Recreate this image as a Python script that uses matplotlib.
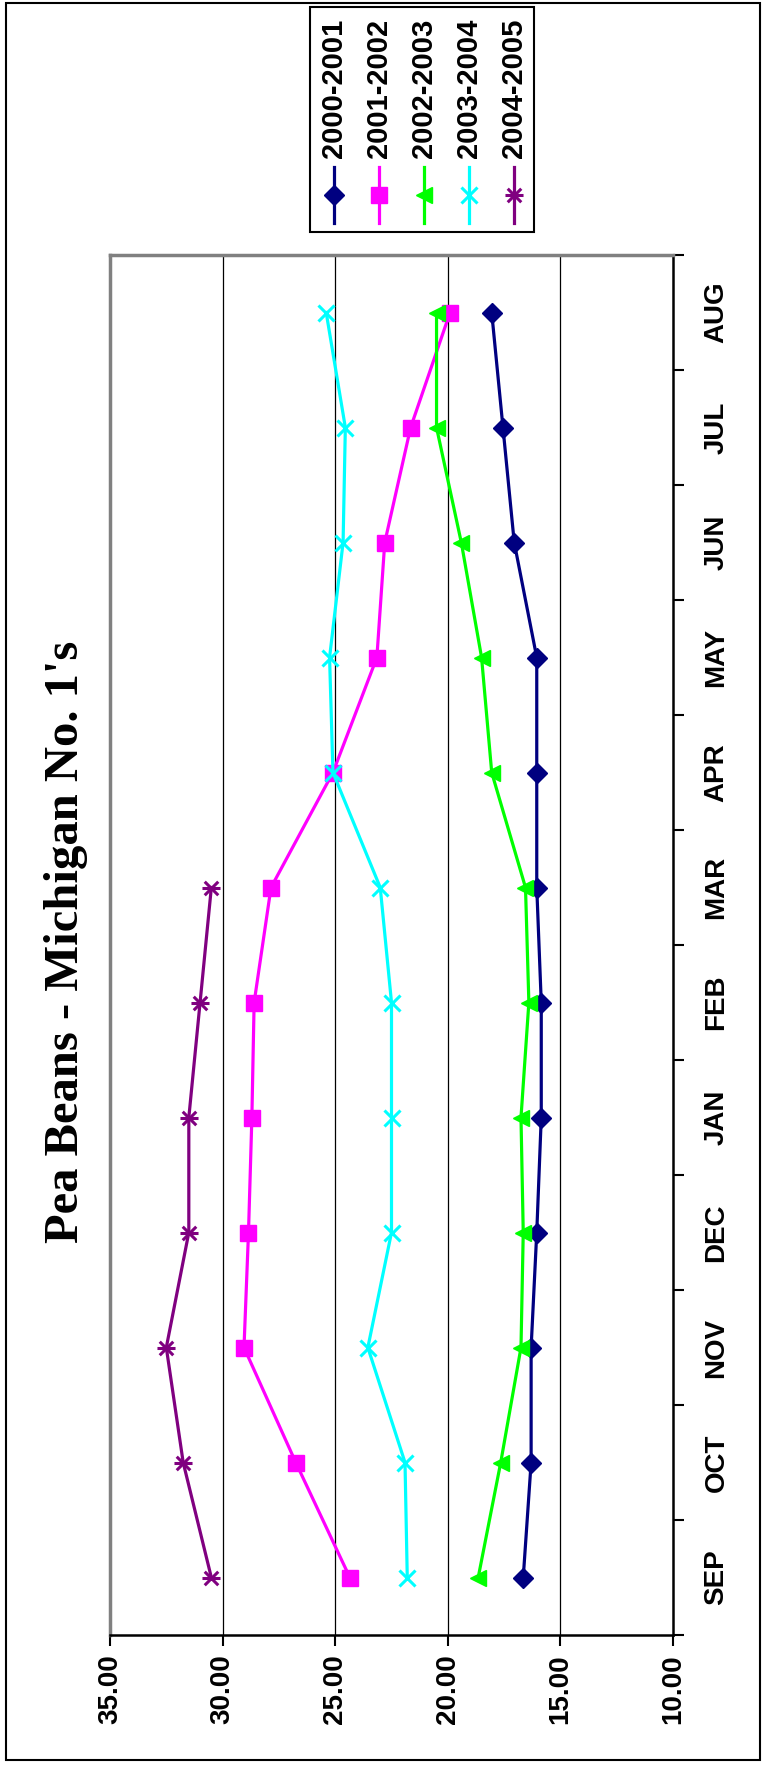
import numpy as np
import matplotlib
matplotlib.use("Agg")
import matplotlib.pyplot as plt
from matplotlib.path import Path
from matplotlib.lines import Line2D
from matplotlib.patches import Rectangle

# Daten (Preise pro Monat, Saison Sep-Aug)
months = ["SEP", "OCT", "NOV", "DEC", "JAN", "FEB", "MAR", "APR", "MAY", "JUN", "JUL", "AUG"]
seasons = ["2000-2001", "2001-2002", "2002-2003", "2003-2004", "2004-2005"]

s2000 = [16.65, 16.3, 16.3, 16.05, 15.85, 15.85, 16.05, 16.05, 16.05, 17.05, 17.55, 18.05]
s2001 = [24.35, 26.75, 29.05, 28.85, 28.7, 28.6, 27.85, 25.1, 23.15, 22.8, 21.65, 19.9]
s2002 = [18.65, 17.65, 16.75, 16.65, 16.75, 16.4, 16.55, 18.05, 18.5, 19.4, 20.5, 20.5]
s2003 = [21.8, 21.9, 23.55, 22.5, 22.5, 22.5, 23.0, 25.1, 25.25, 24.65, 24.55, 25.4]
s2004 = [30.5, 31.75, 32.5, 31.5, 31.5, 31.0, 30.5]

values = [s2000, s2001, s2002, s2003, s2004]
value_ticks = [35, 30, 25, 20, 15, 10]

# Excel "star" marker, rotated with the chart (x + horizontal bar)
star = Path([(-1, 0), (1, 0), (-0.75, -0.75), (0.75, 0.75), (-0.75, 0.75), (0.75, -0.75)],
            [Path.MOVETO, Path.LINETO, Path.MOVETO, Path.LINETO, Path.MOVETO, Path.LINETO])

styles = [
    dict(color="#000080", marker="D", ms=10),
    dict(color="#FF00FF", marker="s", ms=12),
    dict(color="#00FF00", marker="<", ms=12),
    dict(color="#00FFFF", marker="x", ms=12, mew=2.2),
    dict(color="#800080", marker=star, ms=13, mew=2.2),
]

W, H = 763, 1766
fig = plt.figure(figsize=(W / 100, H / 100), dpi=100)

def fx(px):
    return px / W

def fy(py):
    return 1 - py / H

left, right, top, bottom = 110, 673, 255, 1635
ax = fig.add_axes([fx(left), fy(bottom), (right - left) / W, (bottom - top) / H])

pos = np.arange(len(months))
for vals, st in zip(values, styles):
    ax.plot(vals, pos[:len(vals)], lw=2.3, color=st["color"], marker=st["marker"],
            markersize=st["ms"], markeredgewidth=st.get("mew", 1), clip_on=False)

ax.set_xlim(35, 10)
ax.set_ylim(-0.5, len(months) - 0.5)

# Gitterlinien
for v in value_ticks[1:-1]:
    ax.axvline(v, color="black", lw=0.9, zorder=0)

font = dict(family="Liberation Sans", weight="bold", size=20)
ax.set_xticks(value_ticks)
ax.set_xticklabels([f"{v:.2f}" for v in value_ticks], rotation=90, **font)
ax.tick_params(axis="x", direction="out", length=8, width=1.5, pad=6)

ax.yaxis.tick_right()
ax.set_yticks(np.arange(-0.5, len(months), 1.0))
ax.set_yticklabels([])
ax.set_yticks(pos, minor=True)
ax.set_yticklabels(months, minor=True, rotation=90, va="center", **font)
ax.tick_params(axis="y", which="major", direction="out", length=8, width=1.5)
ax.tick_params(axis="y", which="minor", length=0, pad=22)

for side in ["left", "top"]:
    ax.spines[side].set_color("#808080")
    ax.spines[side].set_linewidth(2.5)
ax.spines["right"].set_color("black")
ax.spines["right"].set_linewidth(1.8)
ax.spines["bottom"].set_color("black")
ax.spines["bottom"].set_linewidth(1.8)

# Titel
fig.text(fx(66), fy(942), "Pea Beans - Michigan No. 1's", rotation=90, ha="center", va="center",
         family="Liberation Serif", weight="bold", size=35)

# Legende (gedreht, von Hand)
lx0, lx1, ly0, ly1 = 310, 534, 7, 232
fig.add_artist(Rectangle((fx(lx0), fy(ly1)), (lx1 - lx0) / W, (ly1 - ly0) / H,
                         transform=fig.transFigure, fill=False, edgecolor="black", lw=1.5))
for i, (name, st) in enumerate(zip(seasons, styles)):
    x = fx(334 + i * 45)
    fig.add_artist(Line2D([x, x], [fy(167), fy(223)], transform=fig.transFigure,
                          color=st["color"], lw=2.3))
    fig.add_artist(Line2D([x], [fy(195)], transform=fig.transFigure, color=st["color"],
                          marker=st["marker"], markersize=st["ms"],
                          markeredgewidth=st.get("mew", 1), linestyle="none"))
    fig.text(x, fy(158), name, rotation=90, ha="center", va="bottom",
             family="Liberation Sans", weight="bold", size=21)

# Rahmen
fig.add_artist(Rectangle((fx(6), fy(1760)), (760 - 6) / W, (1760 - 3) / H,
                         transform=fig.transFigure, fill=False, edgecolor="black", lw=1.5))

fig.savefig("out.png", dpi=100)
